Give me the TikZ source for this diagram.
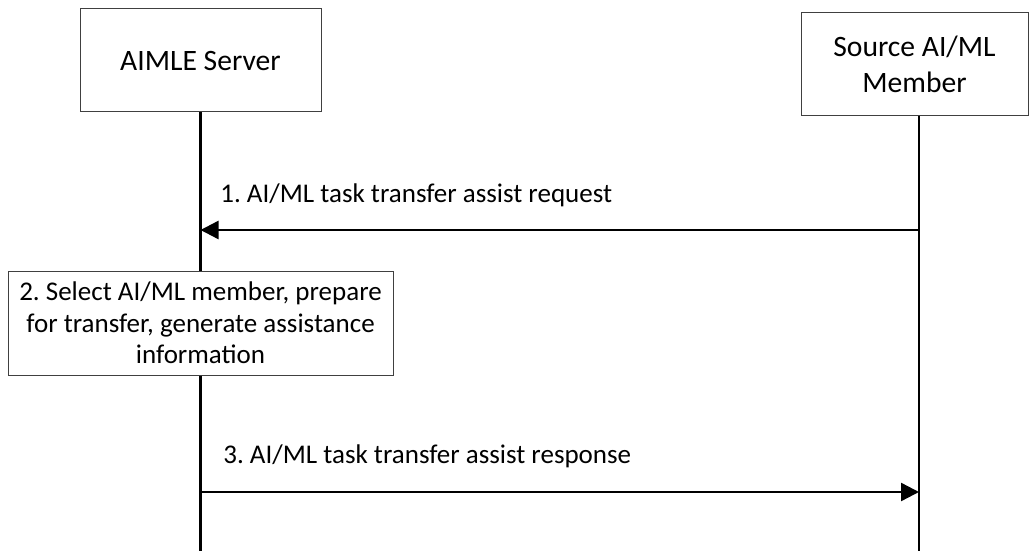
\documentclass[tikz,border=0pt]{standalone}
\usepackage{fontspec}
\setmainfont{Carlito}
\usetikzlibrary{arrows.meta,positioning}
\frenchspacing

\begin{document}
\begin{tikzpicture}[
    x=0.5pt, y=-0.5pt,
    font=\fontsize{13.5}{15.75}\selectfont,
    box/.style={rectangle, draw=black!75, line width=0.5pt, align=center, inner sep=0pt, fill=white},
    head/.style={box, minimum height=51.5pt, font=\fontsize{14.8}{18}\selectfont},
    life/.style={line width=1.3pt},
    arrow/.style={-{Triangle[length=9pt,width=9pt]}, line width=1.2pt},
    msg/.style={anchor=base west, inner sep=0pt}
]
    \useasboundingbox (0,0) rectangle (1029,551);
    % entities
    \node[head, minimum width=120.5pt] (srv) at (200.5,60.5) {AIMLE Server};
    \node[head, minimum width=113.5pt] (src) at (914.5,64.5) {Source AI/ML\\ Member};
    \node[box, minimum width=192.5pt, minimum height=52pt] (step2) at (200.5,323) {2. Select AI/ML member, prepare\\ for transfer, generate assistance\\ information};
    % lifelines
    \coordinate (srvend) at (200.5,551);
    \coordinate (srcend) at (919,551);
    \draw[life] (srv) -- (step2);
    \draw[life] (step2) -- (srvend);
    \draw[life] (src.south -| srcend) -- (srcend);
    % messages
    \coordinate (src1) at (919,230);
    \coordinate (srv1) at (200.5,230);
    \draw[arrow] (src1) -- (srv1);
    \node[msg] (msg1) at (220,203) {1. AI/ML task transfer assist request};
    \coordinate (srv3) at (200.5,492);
    \coordinate (src3) at (919,492);
    \draw[arrow] (srv3) -- (src3);
    \node[msg] (msg3) at (223,463) {3. AI/ML task transfer assist response};
\end{tikzpicture}
\end{document}
